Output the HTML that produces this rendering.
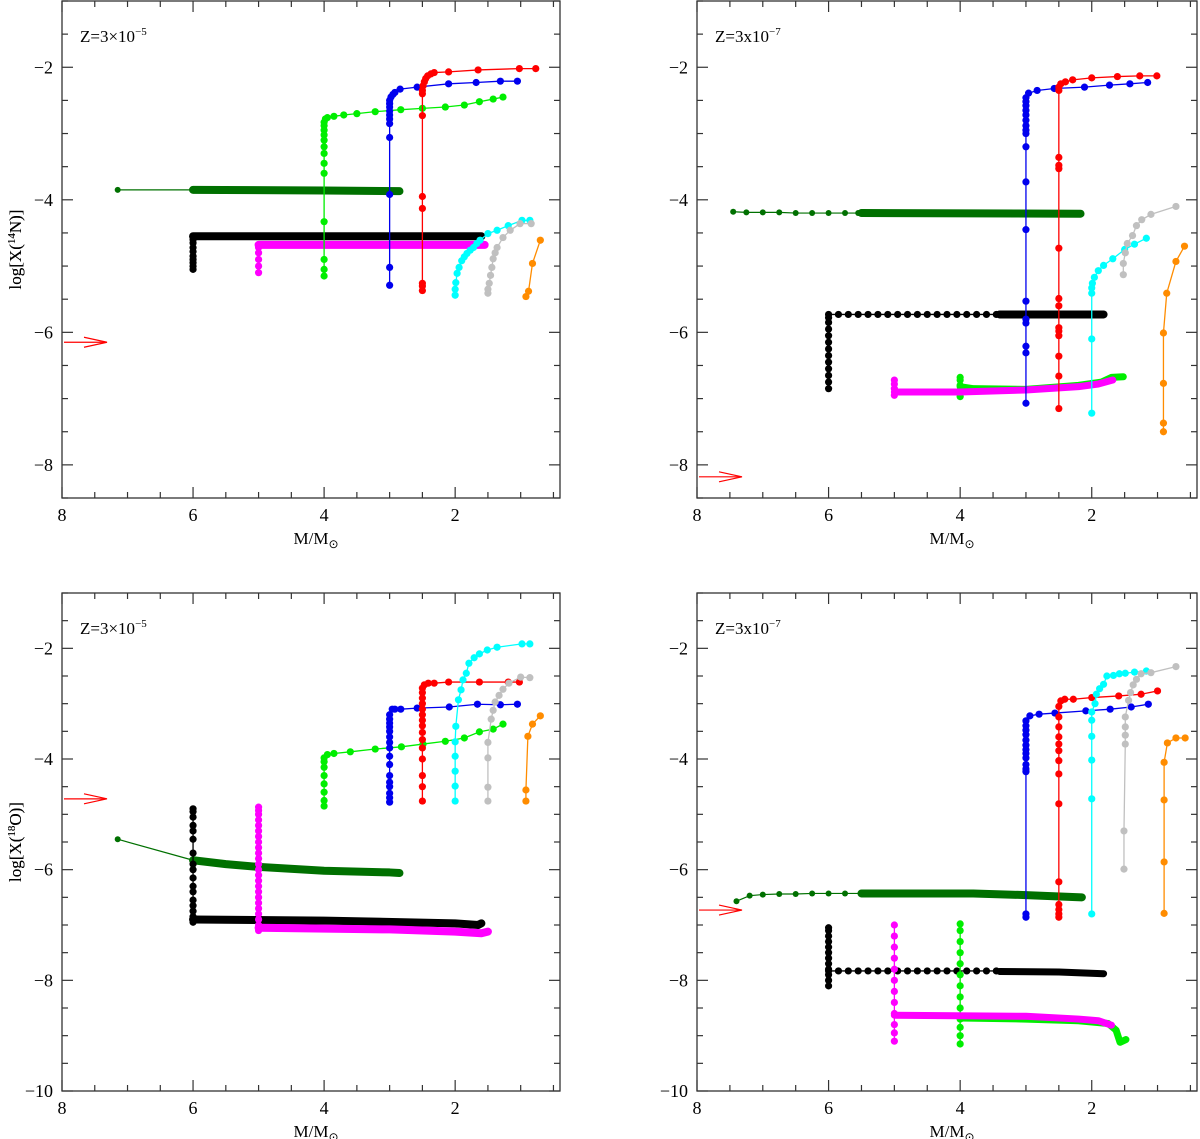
<!DOCTYPE html>
<html><head><meta charset="utf-8"><style>
html,body{margin:0;padding:0;background:#fff}
svg{display:block}
text{font-family:"Liberation Serif",serif;fill:#000}
</style></head><body>
<svg id="fig" width="1200" height="1139" viewBox="0 0 1200 1139" xmlns="http://www.w3.org/2000/svg"></svg>
<script>
// ===== Data (M/Msun, log X) =====
// Top-left: 14N, Z=3e-5
const tlDarkGreenLine=[[7.15,-3.85],[6,-3.85]];
const tlDarkGreenBand=[[6,-3.85],[4,-3.86],[2.85,-3.87]];
const tlBlackDots=[[6,-5.05],[6,-5.0],[6,-4.95],[6,-4.9],[6,-4.85],[6,-4.78],[6,-4.72],[6,-4.65],[6,-4.6],[6,-4.55]];
const tlBlackBand=[[6,-4.55],[1.6,-4.55]];
const tlMagentaDots=[[5,-5.1],[5,-5.0],[5,-4.9],[5,-4.8],[5,-4.72]];
const tlMagentaBand=[[5,-4.68],[1.55,-4.68]];
const tlGreen=[[4,-5.15],[4,-5.05],[4,-4.9],[4,-4.33],[4,-3.6],[4,-3.45],[4,-3.3],[4,-3.2],[4,-3.1],[4,-3.02],[4,-2.95],[4,-2.88],[4,-2.83],[3.98,-2.78],[3.95,-2.76],[3.85,-2.74],[3.7,-2.72],[3.5,-2.7],[3.22,-2.67],[2.83,-2.64],[2.5,-2.62],[2.15,-2.6],[1.86,-2.57],[1.63,-2.52],[1.42,-2.48],[1.27,-2.45]];
const tlBlue=[[3,-5.29],[3,-5.02],[3,-3.92],[3,-3.06],[3,-2.85],[3,-2.78],[3,-2.72],[3,-2.66],[3,-2.6],[3,-2.55],[3,-2.5],[2.98,-2.45],[2.95,-2.41],[2.92,-2.38],[2.84,-2.33],[2.58,-2.3],[2.1,-2.25],[1.68,-2.23],[1.31,-2.21],[1.05,-2.21]];
const tlRed=[[2.5,-5.37],[2.5,-5.3],[2.5,-5.26],[2.5,-4.13],[2.5,-3.95],[2.5,-2.73],[2.5,-2.4],[2.5,-2.35],[2.49,-2.28],[2.47,-2.22],[2.45,-2.17],[2.42,-2.13],[2.37,-2.1],[2.32,-2.08],[2.1,-2.07],[1.65,-2.04],[1.02,-2.02],[0.77,-2.02]];
const tlCyan=[[2.0,-5.44],[2.0,-5.35],[1.99,-5.25],[1.97,-5.11],[1.94,-5.02],[1.9,-4.92],[1.86,-4.86],[1.82,-4.81],[1.77,-4.76],[1.72,-4.72],[1.67,-4.66],[1.62,-4.61],[1.5,-4.51],[1.36,-4.46],[1.19,-4.39],[0.98,-4.31],[0.86,-4.31]];
const tlGray=[[1.5,-5.41],[1.5,-5.35],[1.48,-5.26],[1.46,-5.14],[1.44,-5.02],[1.42,-4.89],[1.39,-4.8],[1.36,-4.72],[1.27,-4.57],[1.16,-4.46],[1.01,-4.36],[0.84,-4.36]];
const tlOrange=[[0.92,-5.46],[0.88,-5.38],[0.82,-4.96],[0.70,-4.61]];
const tlArrow=-6.15;

// Top-right: 14N, Z=3e-7
const trDarkGreenLine=[[7.45,-4.18],[7.25,-4.19],[7.0,-4.19],[6.75,-4.19],[6.5,-4.2],[6.25,-4.2],[6.0,-4.2],[5.75,-4.2],[5.55,-4.2]];
const trDarkGreenBand=[[5.5,-4.2],[2.17,-4.21]];
const trBlackDots=[[6,-6.85],[6,-6.75],[6,-6.65],[6,-6.55],[6,-6.45],[6,-6.35],[6,-6.25],[6,-6.15],[6,-6.05],[6,-5.95],[6,-5.85],[6,-5.78],[6,-5.73],[5.85,-5.73],[5.7,-5.73],[5.55,-5.73],[5.4,-5.73],[5.25,-5.73],[5.1,-5.73],[4.95,-5.73],[4.8,-5.73],[4.65,-5.73],[4.5,-5.73],[4.35,-5.73],[4.2,-5.73],[4.05,-5.73],[3.9,-5.73],[3.75,-5.73],[3.6,-5.73],[3.45,-5.73]];
const trBlackBand=[[3.4,-5.73],[1.82,-5.73]];
const trGreenDots=[[4,-6.97],[4,-6.9],[4,-6.8],[4,-6.72],[4,-6.68]];
const trGreenBand=[[4,-6.82],[3.8,-6.85],[3,-6.86],[2.2,-6.8],[1.85,-6.75],[1.7,-6.68],[1.52,-6.67]];
const trMagentaDots=[[5,-6.95],[5,-6.85],[5,-6.78],[5,-6.72]];
const trMagentaBand=[[5,-6.9],[4,-6.9],[3,-6.87],[2.2,-6.82],[1.9,-6.78],[1.68,-6.72]];
const trBlue=[[3,-7.07],[3,-6.31],[3,-6.21],[3,-5.86],[3,-5.8],[3,-5.53],[3,-4.45],[3,-3.73],[3,-3.2],[3,-3.0],[3,-2.95],[3,-2.88],[3,-2.8],[3,-2.72],[3,-2.65],[3,-2.58],[3,-2.52],[3,-2.46],[2.96,-2.39],[2.83,-2.35],[2.57,-2.32],[2.11,-2.3],[1.73,-2.27],[1.42,-2.25],[1.15,-2.23]];
const trRed=[[2.5,-7.15],[2.5,-6.66],[2.5,-6.36],[2.5,-6.05],[2.5,-5.98],[2.5,-5.93],[2.5,-5.6],[2.5,-5.49],[2.5,-4.73],[2.5,-3.53],[2.5,-3.48],[2.5,-3.36],[2.5,-2.35],[2.5,-2.3],[2.47,-2.25],[2.4,-2.22],[2.29,-2.19],[2.0,-2.16],[1.61,-2.14],[1.27,-2.13],[1.01,-2.13]];
const trCyan=[[2.0,-7.22],[2.0,-6.1],[2.0,-5.41],[2.0,-5.33],[1.99,-5.26],[1.96,-5.17],[1.9,-5.07],[1.82,-4.99],[1.68,-4.89],[1.5,-4.75],[1.35,-4.67],[1.17,-4.58]];
const trGray=[[1.52,-5.13],[1.52,-4.96],[1.49,-4.8],[1.46,-4.66],[1.38,-4.54],[1.32,-4.39],[1.24,-4.3],[1.1,-4.22],[0.72,-4.1]];
const trOrange=[[0.91,-7.5],[0.91,-7.37],[0.91,-6.77],[0.91,-6.01],[0.86,-5.41],[0.72,-4.93],[0.59,-4.7]];
const trArrow=-8.18;

// Bottom-left: 18O, Z=3e-5
const blDarkGreenLine=[[7.15,-5.45],[6,-5.83]];
const blDarkGreenBand=[[6,-5.83],[5.5,-5.9],[5,-5.95],[4,-6.02],[3,-6.05],[2.85,-6.06]];
const blBlackDots=[[6,-6.95],[6,-6.85],[6,-6.75],[6,-6.65],[6,-6.55],[6,-6.4],[6,-6.3],[6,-6.15],[6,-6.0],[6,-5.9],[6,-5.7],[6,-5.45],[6,-5.3],[6,-5.2],[6,-5.05],[6,-4.95],[6,-4.9]];
const blBlackBand=[[6,-6.9],[4,-6.92],[2,-6.97],[1.65,-7.0],[1.6,-6.97]];
const blMagentaDots=[[5,-7.1],[5,-7.0],[5,-6.9],[5,-6.8],[5,-6.7],[5,-6.6],[5,-6.5],[5,-6.4],[5,-6.3],[5,-6.2],[5,-6.1],[5,-6.0],[5,-5.9],[5,-5.8],[5,-5.7],[5,-5.6],[5,-5.5],[5,-5.4],[5,-5.3],[5,-5.2],[5,-5.1],[5,-5.0],[5,-4.93],[5,-4.87]];
const blMagentaBand=[[5,-7.05],[3,-7.08],[2,-7.12],[1.6,-7.15],[1.5,-7.12]];
const blGreen=[[4,-4.85],[4,-4.75],[4,-4.6],[4,-4.45],[4,-4.3],[4,-4.15],[4,-4.05],[4,-3.98],[3.95,-3.92],[3.85,-3.9],[3.6,-3.87],[3.22,-3.82],[2.82,-3.78],[2.49,-3.73],[2.15,-3.68],[1.86,-3.62],[1.63,-3.51],[1.42,-3.46],[1.27,-3.37]];
const blBlue=[[3,-4.78],[3,-4.7],[3,-4.62],[3,-4.5],[3,-4.42],[3,-4.3],[3,-4.1],[3,-3.95],[3,-3.8],[3,-3.7],[3,-3.6],[3,-3.5],[3,-3.42],[3,-3.35],[3,-3.28],[3,-3.2],[2.96,-3.1],[2.92,-3.1],[2.83,-3.1],[2.58,-3.08],[2.09,-3.06],[1.66,-3.01],[1.31,-3.02],[1.05,-3.01]];
const blRed=[[2.5,-4.76],[2.5,-4.5],[2.5,-4.3],[2.5,-4.0],[2.5,-3.8],[2.5,-3.65],[2.5,-3.52],[2.5,-3.4],[2.5,-3.3],[2.5,-3.2],[2.5,-3.1],[2.5,-3.0],[2.5,-2.9],[2.5,-2.8],[2.5,-2.72],[2.47,-2.66],[2.41,-2.63],[2.32,-2.63],[2.1,-2.61],[1.63,-2.61],[1.19,-2.61],[1.02,-2.61]];
const blCyan=[[2.0,-4.76],[2.0,-4.49],[2.0,-4.22],[2.0,-3.95],[2.0,-3.69],[1.99,-3.41],[1.95,-2.93],[1.91,-2.75],[1.88,-2.57],[1.83,-2.45],[1.79,-2.27],[1.71,-2.17],[1.63,-2.1],[1.51,-2.03],[1.36,-1.98],[0.98,-1.92],[0.86,-1.92]];
const blGray=[[1.5,-4.76],[1.5,-4.51],[1.5,-3.98],[1.5,-3.7],[1.45,-3.28],[1.42,-3.12],[1.39,-2.97],[1.33,-2.85],[1.27,-2.74],[1.18,-2.63],[1.0,-2.52],[0.86,-2.53]];
const blOrange=[[0.92,-4.76],[0.92,-4.56],[0.89,-3.59],[0.82,-3.37],[0.70,-3.22]];
const blArrow=-4.72;

// Bottom-right: 18O, Z=3e-7
const brDarkGreenLine=[[7.4,-6.57],[7.2,-6.47],[7.0,-6.45],[6.75,-6.44],[6.5,-6.44],[6.25,-6.43],[6.0,-6.43],[5.75,-6.43],[5.5,-6.43]];
const brDarkGreenBand=[[5.5,-6.43],[3.8,-6.43],[3,-6.46],[2.15,-6.5]];
const brBlackVert=[[6,-8.1],[6,-8.0],[6,-7.9],[6,-7.8],[6,-7.7],[6,-7.6],[6,-7.5],[6,-7.4],[6,-7.3],[6,-7.2],[6,-7.1],[6,-7.05]];
const brBlackDots=[[6,-7.83],[5.85,-7.83],[5.7,-7.83],[5.55,-7.83],[5.4,-7.83],[5.25,-7.83],[5.1,-7.83],[4.95,-7.83],[4.8,-7.83],[4.65,-7.83],[4.5,-7.83],[4.35,-7.83],[4.2,-7.83],[4.05,-7.83],[3.9,-7.83],[3.75,-7.83],[3.6,-7.83],[3.45,-7.83]];
const brBlackBand=[[3.4,-7.84],[2.5,-7.85],[1.82,-7.88]];
const brGreenDots=[[4,-9.15],[4,-9.0],[4,-8.85],[4,-8.7],[4,-8.5],[4,-8.3],[4,-8.1],[4,-7.9],[4,-7.7],[4,-7.5],[4,-7.3],[4,-7.1],[4,-6.98]];
const brGreenBand=[[4,-8.68],[3,-8.7],[2.2,-8.73],[1.75,-8.78],[1.63,-8.9],[1.57,-9.12],[1.48,-9.07]];
const brMagentaDots=[[5,-9.1],[5,-8.95],[5,-8.8],[5,-8.6],[5,-8.4],[5,-8.2],[5,-8.0],[5,-7.8],[5,-7.6],[5,-7.4],[5,-7.2],[5,-7.0]];
const brMagentaBand=[[5,-8.63],[3,-8.65],[2.2,-8.7],[1.9,-8.73],[1.7,-8.81]];
const brBlue=[[3,-6.86],[3,-6.8],[3,-4.23],[3,-4.18],[3,-4.1],[3,-3.98],[3,-3.9],[3,-3.83],[3,-3.75],[3,-3.66],[3,-3.56],[3,-3.48],[3,-3.4],[3,-3.31],[2.94,-3.22],[2.8,-3.19],[2.56,-3.17],[2.09,-3.13],[1.72,-3.1],[1.4,-3.06],[1.14,-3.01]];
const brRed=[[2.5,-6.86],[2.5,-6.8],[2.5,-6.72],[2.5,-6.63],[2.5,-6.22],[2.5,-4.81],[2.5,-4.27],[2.5,-4.03],[2.5,-3.85],[2.5,-3.73],[2.5,-3.6],[2.5,-3.42],[2.5,-3.24],[2.5,-3.05],[2.47,-2.95],[2.41,-2.92],[2.28,-2.92],[2.0,-2.89],[1.59,-2.86],[1.25,-2.83],[1.0,-2.77]];
const brCyan=[[2.0,-6.8],[2.0,-4.72],[2.0,-4.02],[2.0,-3.59],[2.0,-3.3],[2.0,-3.15],[1.95,-3.0],[1.93,-2.83],[1.88,-2.73],[1.82,-2.65],[1.77,-2.5],[1.67,-2.49],[1.58,-2.46],[1.49,-2.45],[1.35,-2.43],[1.17,-2.41]];
const brGray=[[1.51,-5.99],[1.51,-5.3],[1.49,-3.73],[1.49,-3.57],[1.49,-3.42],[1.49,-3.24],[1.44,-2.94],[1.41,-2.8],[1.37,-2.66],[1.32,-2.56],[1.25,-2.46],[1.1,-2.44],[0.72,-2.33]];
const brOrange=[[0.9,-6.79],[0.9,-5.86],[0.9,-4.74],[0.9,-4.06],[0.85,-3.71],[0.72,-3.62],[0.58,-3.62]];
const brArrow=-6.73;

// Axis ticks
const xMajorTicks=[8,6,4,2];
const yMajorTop=[-2,-4,-6,-8];
const yMajorBottom=[-2,-4,-6,-8,-10];

// ===== Colors =====
const C={dg:'#007000',black:'#000',mag:'#ff00ff',green:'#00ee00',blue:'#0000ee',red:'#ff0000',cyan:'#00ffff',gray:'#c0c0c0',orange:'#ff8c00'};
const NS='http://www.w3.org/2000/svg';
const svg=document.getElementById('fig');
function mk(tag,attrs,parent){const e=document.createElementNS(NS,tag);for(const k in attrs)e.setAttribute(k,attrs[k]);(parent||svg).appendChild(e);return e;}

function panel(p){
  const g=mk('g',{});
  
  
  const xs=m=>p.x0+(p.xmax-m)/(p.xmax-p.xmin)*p.w;
  const ys=v=>p.y0+(p.ymax-v)/(p.ymax-p.ymin)*p.h;
  p.xs=xs;p.ys=ys;p.g=g;
  const cid='clip-'+p.name;
  const cp=mk('clipPath',{id:cid},g);mk('rect',{x:p.x0,y:p.y0,width:p.w,height:p.h},cp);
  p.plot=mk('g',{'clip-path':'url(#'+cid+')'},g);
  
  
  const fr=mk('rect',{x:p.x0,y:p.y0,width:p.w,height:p.h,fill:'none',stroke:'#333','stroke-width':1.3},g);
  
  
  const tg=mk('g',{stroke:'#333','stroke-width':1.2},g);
  for(let m=p.xmax;m>=p.xmin-1e-9;m-=0.5){
    const x=xs(m);const L=(Math.abs(m-Math.round(m/2)*2)<1e-6)?11:6;
    if(x<p.x0-0.5||x>p.x0+p.w+0.5)continue;
    mk('line',{x1:x,y1:p.y0+p.h,x2:x,y2:p.y0+p.h-L},tg);
    mk('line',{x1:x,y1:p.y0,x2:x,y2:p.y0+L},tg);
  }
  for(let v=p.ymax;v>=p.ymin-1e-9;v-=0.5){
    const y=ys(v);const L=(Math.abs(v-Math.round(v/2)*2)<1e-6)?11:6;
    mk('line',{x1:p.x0,y1:y,x2:p.x0+L,y2:y},tg);
    mk('line',{x1:p.x0+p.w,y1:y,x2:p.x0+p.w-L,y2:y},tg);
  }
  xMajorTicks.forEach(m=>{
    const t=mk('text',{x:xs(m),y:p.y0+p.h+23,'text-anchor':'middle','font-size':18},g);t.textContent=String(m);
    
    
  });
  p.yt.forEach(v=>{
    const t=mk('text',{x:p.x0-9,y:ys(v)+6,'text-anchor':'end','font-size':18},g);t.textContent=String(v).replace('-','\u2212');
    
    
  });
  const xl=mk('text',{x:p.x0+p.w/2+5,y:p.y0+p.h+46,'text-anchor':'middle','font-size':17},g);
  xl.innerHTML='M/M<tspan font-size="12" dy="4">\u2299</tspan>';
  
  
  const yl=mk('text',{x:0,y:0,'text-anchor':'middle','font-size':17,transform:'translate(21,'+(p.y0+p.h/2)+') rotate(-90)'},g);
  yl.innerHTML='log[X(<tspan font-size="11" dy="-6">'+p.iso+'</tspan><tspan dy="6">'+p.el+')]</tspan>';
  
  
  const zl=mk('text',{x:p.x0+18,y:p.y0+41,'font-size':17},g);
  zl.innerHTML=p.z+'<tspan font-size="11" dy="-7">'+p.zexp+'</tspan>';
  
  
  const ay=ys(p.arrow);
  const ag=mk('g',{stroke:'#ff0000','stroke-width':1.2,fill:'none'},g);
  
  
  mk('line',{x1:p.x0+2,y1:ay,x2:p.x0+44,y2:ay},ag);
  mk('polyline',{points:(p.x0+22)+','+(ay-5)+' '+(p.x0+45)+','+ay+' '+(p.x0+22)+','+(ay+5)},ag);
  return p;
}
function series(p,pts,color,name,r,lw){
  const g=mk('g',{},p.plot);
  
  
  mk('polyline',{points:pts.map(q=>p.xs(q[0])+','+p.ys(q[1])).join(' '),fill:'none',stroke:color,'stroke-width':lw||1.3},g);
  pts.forEach(q=>{mk('circle',{cx:p.xs(q[0]),cy:p.ys(q[1]),r:r||3.6,fill:color},g);});
}
function band(p,pts,color,name,w){
  const e=mk('polyline',{points:pts.map(q=>p.xs(q[0])+','+p.ys(q[1])).join(' '),fill:'none',stroke:color,'stroke-width':w||8,'stroke-linecap':'round','stroke-linejoin':'round'},p.plot);
  
  
}

const TL=panel({name:'panel-n14-z3e-5',x0:62,y0:1,w:498,h:497,xmin:0.4,xmax:8,ymin:-8.5,ymax:-1,yt:yMajorTop,iso:'14',el:'N',z:'Z=3\u00d710',zexp:'\u22125',arrow:tlArrow});
const TR=panel({name:'panel-n14-z3e-7',x0:697,y0:1,w:500,h:497,xmin:0.4,xmax:8,ymin:-8.5,ymax:-1,yt:yMajorTop,iso:'14',el:'N',z:'Z=3x10',zexp:'\u22127',arrow:trArrow});
const BL=panel({name:'panel-o18-z3e-5',x0:62,y0:593,w:498,h:498,xmin:0.4,xmax:8,ymin:-10,ymax:-1,yt:yMajorBottom,iso:'18',el:'O',z:'Z=3\u00d710',zexp:'\u22125',arrow:blArrow});
const BR=panel({name:'panel-o18-z3e-7',x0:697,y0:593,w:500,h:498,xmin:0.4,xmax:8,ymin:-10,ymax:-1,yt:yMajorBottom,iso:'18',el:'O',z:'Z=3x10',zexp:'\u22127',arrow:brArrow});

// TL
series(TL,tlDarkGreenLine,C.dg,'series-7msun',3,1.2);band(TL,tlDarkGreenBand,C.dg,'series-7msun-band',8);
series(TL,tlBlackDots,C.black,'series-6msun',3.6);band(TL,tlBlackBand,C.black,'series-6msun-band',8);
series(TL,tlMagentaDots,C.mag,'series-5msun',3.6);band(TL,tlMagentaBand,C.mag,'series-5msun-band',8);
series(TL,tlGreen,C.green,'series-4msun');series(TL,tlBlue,C.blue,'series-3msun');series(TL,tlRed,C.red,'series-2p5msun');
series(TL,tlCyan,C.cyan,'series-2msun');series(TL,tlGray,C.gray,'series-1p5msun');series(TL,tlOrange,C.orange,'series-1msun');
// TR
series(TR,trDarkGreenLine,C.dg,'series-7msun',3,1.2);band(TR,trDarkGreenBand,C.dg,'series-7msun-band',8);
series(TR,trBlackDots,C.black,'series-6msun',3.6);band(TR,trBlackBand,C.black,'series-6msun-band',8);
series(TR,trGreenDots,C.green,'series-4msun',3.6);band(TR,trGreenBand,C.green,'series-4msun-band',7);
series(TR,trMagentaDots,C.mag,'series-5msun',3.6);band(TR,trMagentaBand,C.mag,'series-5msun-band',7);
series(TR,trBlue,C.blue,'series-3msun');series(TR,trRed,C.red,'series-2p5msun');
series(TR,trCyan,C.cyan,'series-2msun');series(TR,trGray,C.gray,'series-1p5msun');series(TR,trOrange,C.orange,'series-1msun');
// BL
series(BL,blDarkGreenLine,C.dg,'series-7msun',3,1.2);band(BL,blDarkGreenBand,C.dg,'series-7msun-band',8);
series(BL,blBlackDots,C.black,'series-6msun',3.6);band(BL,blBlackBand,C.black,'series-6msun-band',8);
series(BL,blMagentaDots,C.mag,'series-5msun',3.6);band(BL,blMagentaBand,C.mag,'series-5msun-band',8);
series(BL,blGreen,C.green,'series-4msun');series(BL,blBlue,C.blue,'series-3msun');series(BL,blRed,C.red,'series-2p5msun');
series(BL,blCyan,C.cyan,'series-2msun');series(BL,blGray,C.gray,'series-1p5msun');series(BL,blOrange,C.orange,'series-1msun');
// BR
series(BR,brDarkGreenLine,C.dg,'series-7msun',3,1.2);band(BR,brDarkGreenBand,C.dg,'series-7msun-band',8);
series(BR,brBlackVert,C.black,'series-6msun-vertical',3.6);
series(BR,brBlackDots,C.black,'series-6msun',3.6);band(BR,brBlackBand,C.black,'series-6msun-band',7);
series(BR,brGreenDots,C.green,'series-4msun',3.6);band(BR,brGreenBand,C.green,'series-4msun-band',7);
series(BR,brMagentaDots,C.mag,'series-5msun',3.6);band(BR,brMagentaBand,C.mag,'series-5msun-band',7);
series(BR,brBlue,C.blue,'series-3msun');series(BR,brRed,C.red,'series-2p5msun');
series(BR,brCyan,C.cyan,'series-2msun');series(BR,brGray,C.gray,'series-1p5msun');series(BR,brOrange,C.orange,'series-1msun');
</script>
</body></html>
